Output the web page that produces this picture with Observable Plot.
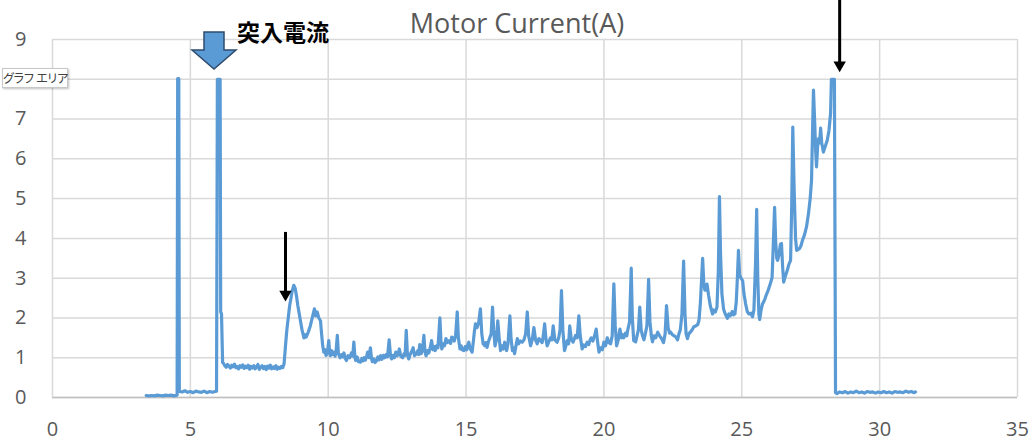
<!DOCTYPE html>
<html>
<head>
<meta charset="utf-8">
<script src="https://cdn.jsdelivr.net/npm/d3@7"></script>
<script src="https://cdn.jsdelivr.net/npm/@observablehq/plot@0.6"></script>
<style>
  body { margin: 0; background: #fff; }
  #wrap { position: relative; width: 1035px; height: 446px; overflow: hidden; }
  #wrap > svg { position: absolute; left: 0; top: 0; }
  #tip {
    position: absolute; left: 2px; top: 68px; width: 64px; height: 18px;
    background: #fff; border: 1px solid #c8c8c8; box-shadow: 1px 1px 2px rgba(0,0,0,0.25);
    font-family: "Noto Sans CJK JP", sans-serif; font-size: 12px; line-height: 18px;
    color: #404040; text-align: center; white-space: nowrap; font-feature-settings: "palt";
    letter-spacing: -0.2px;
  }
</style>
</head>
<body>
<div id="wrap"></div>
<script>
// ---- text ----
const chartTitle = "Motor Current(A)";
const annotationText = "突入電流";
const tooltipText = "グラフ エリア";

// ---- ticks ----
const xTicks = [0, 5, 10, 15, 20, 25, 30, 35];
const yTicks = [0, 1, 2, 3, 4, 5, 6, 7, 8, 9];
const yTickLabels = [0, 1, 2, 3, 4, 5, 6, 7, 9]; // "8" is hidden behind the tooltip in the reference

// ---- samples [time s, current A] ----
const idleAndInrush = [
  [3.40,0.05],[3.50,0.04],[3.60,0.05],[3.70,0.04],[3.80,0.06],[3.90,0.05],[4.00,0.04],[4.10,0.06],
  [4.20,0.05],[4.30,0.06],[4.40,0.04],[4.52,0.06],[4.54,8.02],[4.58,8.02],[4.60,0.15],
  [4.70,0.14],[4.80,0.17],[4.90,0.13],[5.00,0.15],[5.10,0.12],[5.20,0.16],[5.30,0.14],[5.40,0.13],
  [5.50,0.16],[5.60,0.12],[5.70,0.15],[5.80,0.13],[5.90,0.15],[5.95,0.16],[5.98,8.00],[6.08,8.00],
  [6.10,2.15],[6.13,2.10],[6.17,0.88]
];
const lowRun = [
  [6.20,0.86],[6.25,0.80],[6.30,0.76],[6.35,0.83],[6.40,0.79],[6.45,0.74],[6.50,0.81],[6.55,0.77],
  [6.60,0.84],[6.65,0.75],[6.70,0.78],[6.75,0.72],[6.80,0.80],[6.85,0.76],[6.90,0.82],[6.95,0.73],
  [7.00,0.79],[7.05,0.75],[7.10,0.81],[7.15,0.71],[7.20,0.78],[7.25,0.74],[7.30,0.80],[7.35,0.72],
  [7.40,0.77],[7.45,0.83],[7.50,0.71],[7.55,0.76],[7.60,0.80],[7.65,0.73],[7.70,0.78],[7.75,0.70],
  [7.80,0.79],[7.85,0.74],[7.90,0.81],[7.95,0.72],[8.00,0.77],[8.05,0.73],[8.10,0.80],[8.15,0.71],
  [8.20,0.76],[8.25,0.73],[8.30,0.78],[8.35,0.75],[8.40,0.85]
];
const loadedRun = [
  [8.45,1.30],[8.50,1.70],[8.55,2.00],[8.60,2.30],[8.65,2.50],[8.70,2.70],[8.75,2.82],[8.80,2.75],
  [8.85,2.55],[8.90,2.30],[8.95,2.10],[9.00,1.90],[9.05,1.70],[9.12,1.50],[9.16,1.58],[9.20,1.52],
  [9.28,1.65],[9.35,1.80],[9.42,2.00],[9.50,2.23],[9.55,2.05],[9.60,2.15],[9.66,2.00],[9.72,1.93],
  [9.76,1.60],[9.80,1.30],[9.84,1.14],[9.88,1.20],[9.92,1.06],[9.97,1.12],[10.02,1.43],[10.05,1.15],
  [10.08,1.05],[10.12,1.18],[10.15,1.08],[10.20,1.14],[10.25,1.04],[10.29,1.20],[10.33,1.56],[10.37,1.10],
  [10.43,1.00],[10.48,1.08],[10.52,1.02],[10.57,1.12],[10.62,0.98],[10.66,0.93],[10.72,1.05],[10.78,1.00],
  [10.84,1.12],[10.89,1.04],[10.93,1.39],[10.97,1.00],[11.00,0.93],[11.05,1.02],[11.10,0.90],[11.17,0.89],
  [11.22,0.98],[11.26,0.92],[11.30,1.00],[11.35,0.94],[11.40,1.06],[11.43,1.14],[11.48,1.00],[11.53,1.25],
  [11.57,0.98],[11.60,0.90],[11.65,0.97],[11.70,0.88],[11.75,0.92],[11.80,1.02],[11.85,0.95],[11.90,1.05],
  [11.95,0.96],[12.00,1.06],[12.05,1.00],[12.10,1.08],[12.15,1.02],[12.21,1.45],[12.26,1.05],[12.30,0.97],
  [12.35,1.06],[12.40,1.00],[12.45,1.14],[12.50,1.05],[12.54,1.10],[12.58,1.22],[12.63,1.04],[12.70,1.00],
  [12.75,1.10],[12.79,1.06],[12.83,1.69],[12.87,1.12],[12.92,0.97],[12.97,1.08],[13.02,1.15],[13.08,1.25],
  [13.13,1.05],[13.20,1.10],[13.25,1.18],[13.28,1.08],[13.32,1.33],[13.37,1.10],[13.42,1.20],[13.47,1.56],
  [13.51,1.15],[13.55,1.05],[13.60,1.18],[13.65,1.12],[13.70,1.25],[13.75,1.43],[13.80,1.20],[13.84,1.28],
  [13.88,1.18],[13.93,1.30],[13.98,1.25],[14.05,2.00],[14.09,1.40],[14.12,1.22],[14.17,1.35],[14.22,1.30],
  [14.27,1.48],[14.32,1.38],[14.38,1.43],[14.44,1.36],[14.48,1.52],[14.52,1.50],[14.57,1.42],[14.62,1.55],
  [14.68,2.15],[14.72,1.50],[14.78,1.22],[14.82,1.30],[14.86,1.20],[14.92,1.18],[14.97,1.28],[15.02,1.20],
  [15.06,1.32],[15.10,1.39],[15.15,1.22],[15.22,1.14],[15.27,1.45],[15.30,1.65],[15.34,1.85],[15.40,1.76],
  [15.46,1.90],[15.52,2.23],[15.57,1.60],[15.62,1.35],[15.68,1.30],[15.72,1.38],[15.76,1.26],[15.81,1.40],
  [15.86,1.50],[15.91,1.60],[15.96,2.27],[16.00,1.70],[16.05,1.30],[16.10,1.45],[16.15,1.93],[16.20,1.50],
  [16.25,1.18],[16.30,1.30],[16.35,1.22],[16.40,1.39],[16.47,1.18],[16.52,1.35],[16.59,2.05],[16.63,1.50],
  [16.68,1.18],[16.72,1.25],[16.76,1.10],[16.81,1.30],[16.86,1.48],[16.91,1.35],[16.97,1.42],[17.04,1.39],
  [17.10,1.45],[17.16,1.60],[17.22,2.15],[17.27,1.55],[17.34,1.30],[17.40,1.45],[17.46,1.76],[17.52,1.45],
  [17.58,1.35],[17.64,1.48],[17.70,1.43],[17.76,1.38],[17.80,1.55],[17.85,1.85],[17.90,1.45],[17.94,1.30],
  [18.00,1.40],[18.06,1.50],[18.11,1.45],[18.16,1.80],[18.22,1.45],[18.30,1.39],[18.36,1.50],[18.41,1.70],
  [18.46,2.69],[18.51,1.70],[18.57,1.18],[18.62,1.30],[18.67,1.43],[18.72,1.35],[18.76,1.80],[18.82,1.45],
  [18.88,1.39],[18.93,1.48],[18.97,1.56],[19.03,1.50],[19.09,2.05],[19.14,1.55],[19.21,1.22],[19.27,1.32],
  [19.33,1.28],[19.39,1.39],[19.45,1.33],[19.50,1.45],[19.54,1.50],[19.60,1.42],[19.66,1.55],[19.72,1.72],
  [19.77,1.40],[19.82,1.14],[19.88,1.25],[19.94,1.20],[20.00,1.39],[20.06,1.30],[20.12,1.50],[20.18,1.38],
  [20.24,1.35],[20.30,1.55],[20.36,2.86],[20.41,1.80],[20.46,1.30],[20.52,1.45],[20.58,1.72],[20.64,1.50],
  [20.68,1.58],[20.72,1.50],[20.78,1.62],[20.83,1.55],[20.87,1.72],[20.93,1.90],[20.99,3.25],[21.03,2.00],
  [21.08,1.43],[21.15,1.40],[21.20,1.55],[21.25,1.70],[21.30,2.27],[21.35,1.70],[21.40,1.55],[21.45,1.45],
  [21.50,1.60],[21.56,1.80],[21.62,2.97],[21.67,1.90],[21.72,1.55],[21.76,1.40],[21.82,1.55],[21.88,1.50],
  [21.95,1.64],[22.02,1.55],[22.09,1.48],[22.16,1.38],[22.22,1.60],[22.27,2.31],[22.33,1.75],[22.38,1.62],
  [22.42,1.64],[22.48,1.58],[22.55,1.55],[22.61,1.52],[22.67,1.45],[22.72,1.60],[22.77,1.70],[22.83,2.10],
  [22.89,3.43],[22.94,2.10],[22.98,1.60],[23.03,1.48],[23.08,1.60],[23.14,1.65],[23.20,1.70],[23.26,1.78],
  [23.33,1.80],[23.40,1.83],[23.45,1.95],[23.50,2.40],[23.58,3.50],[23.62,2.90],[23.66,2.70],[23.69,2.70],
  [23.74,2.85],[23.80,2.55],[23.86,2.30],[23.94,2.10],[23.98,2.20],[24.04,2.15],[24.10,2.27],[24.15,3.20],
  [24.19,5.05],[24.23,3.60],[24.28,2.60],[24.34,2.22],[24.40,2.10],[24.48,1.99],[24.53,2.10],[24.58,2.05],
  [24.65,2.16],[24.70,2.08],[24.75,2.10],[24.80,2.40],[24.84,3.00],[24.88,3.70],[24.92,3.10],[24.97,3.00],
  [25.03,2.94],[25.08,2.60],[25.14,2.35],[25.20,2.16],[25.26,2.10],[25.33,2.12],[25.39,2.03],[25.44,2.20],
  [25.50,3.40],[25.54,4.73],[25.58,3.00],[25.62,2.10],[25.65,1.96],[25.70,2.20],[25.75,2.35],[25.79,2.40],
  [25.84,2.48],[25.90,2.60],[25.96,2.70],[26.04,2.87],[26.10,3.02],[26.14,3.80],[26.19,4.78],[26.23,3.90],
  [26.27,3.50],[26.30,3.45],[26.35,3.60],[26.40,3.85],[26.44,3.87],[26.48,3.30],[26.52,2.90],[26.58,3.05],
  [26.65,3.20],[26.71,3.35],[26.77,3.45],[26.81,4.80],[26.85,6.80],[26.90,5.20],[26.95,4.00],[26.99,3.70],
  [27.04,3.72],[27.10,3.75],[27.15,3.82],[27.20,3.95],[27.28,4.10],[27.35,4.30],[27.42,4.63],[27.48,5.00],
  [27.53,5.46],[27.57,6.80],[27.60,7.73],[27.64,7.00],[27.68,6.20],[27.71,5.80],[27.75,6.30],[27.78,6.50],
  [27.82,6.40],[27.86,6.77],[27.90,6.40],[27.96,6.17],[28.02,6.30],[28.10,6.47],[28.16,6.70],[28.22,7.14],
  [28.25,8.00],[28.36,8.00]
];
const stopped = [
  [28.40,0.12],[28.45,0.10],[28.55,0.14],[28.65,0.12],[28.75,0.15],[28.85,0.11],[28.95,0.14],[29.05,0.12],
  [29.15,0.16],[29.25,0.12],[29.35,0.14],[29.45,0.11],[29.55,0.15],[29.65,0.13],[29.75,0.14],[29.85,0.11],
  [29.95,0.14],[30.05,0.12],[30.15,0.15],[30.25,0.12],[30.35,0.14],[30.45,0.11],[30.55,0.15],[30.65,0.13],
  [30.75,0.14],[30.85,0.12],[30.95,0.16],[31.05,0.13],[31.15,0.15],[31.25,0.12],[31.30,0.14]
];

// annotation arrows (black): x position, top of shaft, tip value
const arrowX = [8.45, 28.55];
const arrowTop = [4.15, 9.99];
const arrowTip = [2.42, 8.18];

// ---- build ----
const series = [...idleAndInrush, ...lowRun, ...loadedRun, ...stopped].map(([t, a]) => ({t, a}));
const arrows = arrowX.map((x, i) => ({x, top: arrowTop[i], tip: arrowTip[i], shaftEnd: arrowTip[i] + 0.2}));

const font = '"Open Sans", "Noto Sans", sans-serif';
const chart = Plot.plot({
  width: 1035, height: 446,
  marginLeft: 52, marginRight: 18, marginTop: 39, marginBottom: 49,
  style: {fontFamily: font, fontSize: "20px", color: "#595959", background: "transparent", overflow: "visible"},
  x: {domain: [0, 35], label: null},
  y: {domain: [0, 9], label: null},
  marks: [
    Plot.gridX(xTicks, {stroke: "#d9d9d9", strokeOpacity: 1, strokeWidth: 1.5}),
    Plot.gridY(yTicks, {stroke: "#d9d9d9", strokeOpacity: 1, strokeWidth: 1.5}),
    Plot.ruleY([0], {stroke: "#bfbfbf", strokeWidth: 1.5}),
    Plot.axisX({ticks: xTicks, tickSize: 0, tickPadding: 24, label: null}),
    Plot.axisY({ticks: yTickLabels, tickSize: 0, tickPadding: 26, label: null}),
    Plot.line(series, {x: "t", y: "a", stroke: "#5B9BD5", strokeWidth: 3.2, strokeLinejoin: "round", strokeLinecap: "round"}),
    Plot.ruleX(arrows, {x: "x", y1: "top", y2: "shaftEnd", stroke: "#000", strokeWidth: 3, clip: false}),
    Plot.dot(arrows, {x: "x", y: "tip", symbol: "triangle", r: 4.6, rotate: 180, fill: "#000", stroke: null, dy: -7, clip: false})
  ]
});
const wrap = document.getElementById("wrap");
wrap.appendChild(chart);

// overlay: title, block arrow, annotation text
const ov = d3.select(wrap).append("svg")
  .attr("width", 1035).attr("height", 446)
  .style("position", "absolute").style("left", 0).style("top", 0).style("pointer-events", "none");
ov.append("text").attr("x", 517).attr("y", 33).attr("text-anchor", "middle")
  .attr("font-family", font).attr("font-size", 27).attr("fill", "#595959").text(chartTitle);
ov.append("polygon")
  .attr("points", "204,32 224,32 224,50 236,50 214,69 192,50 204,50")
  .attr("fill", "#5B9BD5").attr("stroke", "#2F4B6E").attr("stroke-width", 1.5).attr("stroke-linejoin", "miter");
ov.append("text").attr("x", 237).attr("y", 41)
  .attr("font-family", '"Noto Sans CJK JP", sans-serif').attr("font-weight", "bold")
  .attr("font-size", 23).attr("fill", "#000").text(annotationText);

const tip = document.createElement("div");
tip.id = "tip";
tip.textContent = tooltipText;
wrap.appendChild(tip);
</script>
</body>
</html>
